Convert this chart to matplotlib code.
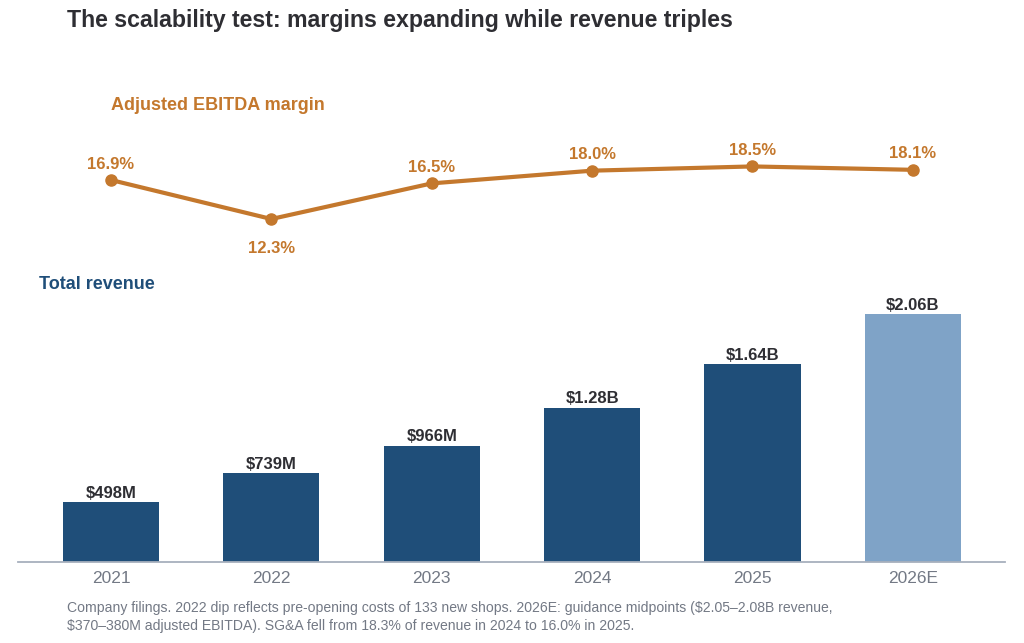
import matplotlib
matplotlib.use('Agg')
from matplotlib import pyplot as plt

# --- DATA ---
years = ['2021', '2022', '2023', '2024', '2025', '2026E']
revenue_b = [0.498, 0.739, 0.966, 1.28, 1.64, 2.06]
revenue_labels = ['$498M', '$739M', '$966M', '$1.28B', '$1.64B', '$2.06B']
margin_pct = [16.9, 12.3, 16.5, 18.0, 18.5, 18.1]
margin_labels = ['16.9%', '12.3%', '16.5%', '18.0%', '18.5%', '18.1%']

# --- STYLE ---
BAR_COLOR = '#1f4e79'
EST_COLOR = '#7fa3c7'
LINE_COLOR = '#c4782d'
TEXT_DARK = '#2e2e33'
TEXT_GRAY = '#737985'
AXIS_COLOR = '#a7b0bd'

plt.rcParams['font.family'] = ['Liberation Sans', 'DejaVu Sans']

W, H = 1024, 643
fig = plt.figure(figsize=(W / 100, H / 100), dpi=100)

x = list(range(len(years)))
xlim = (-0.58, 5.575)
ax_left = 18 / W
ax_width = 987 / W

# Bars (revenue)
bar_top_px, bar_base_px = 285, 562
ax_bar = fig.add_axes([ax_left, (H - bar_base_px) / H, ax_width, (bar_base_px - bar_top_px) / H])
colors = [BAR_COLOR] * (len(years) - 1) + [EST_COLOR]
bars = ax_bar.bar(x, revenue_b, width=0.6, color=colors, zorder=2)
ax_bar.set_xlim(*xlim)
ax_bar.set_ylim(0, 2.3)
for rect, lbl in zip(bars, revenue_labels):
    ax_bar.annotate(lbl, (rect.get_x() + rect.get_width() / 2, rect.get_height()),
                    xytext=(0, 1), textcoords='offset points', ha='center', va='bottom',
                    fontsize=12, fontweight='bold', color=TEXT_DARK)
for s in ['top', 'right', 'left']:
    ax_bar.spines[s].set_visible(False)
ax_bar.spines['bottom'].set_color(AXIS_COLOR)
ax_bar.spines['bottom'].set_linewidth(1.3)
ax_bar.set_yticks([])
ax_bar.set_xticks(x)
ax_bar.set_xticklabels(years, fontsize=12.5, color=TEXT_GRAY)
ax_bar.tick_params(axis='x', length=0, pad=6.5)
ax_bar.patch.set_alpha(0)

# Line (margin)
m_lo, m_hi = 10, 20
px_per_pct = 8.48
y_lo_px = 180 + (16.9 - m_lo) * px_per_pct
y_hi_px = y_lo_px - (m_hi - m_lo) * px_per_pct
ax_line = fig.add_axes([ax_left, (H - y_lo_px) / H, ax_width, (y_lo_px - y_hi_px) / H])
ax_line.plot(x, margin_pct, color=LINE_COLOR, linewidth=3, marker='o', markersize=8, zorder=3)
ax_line.set_xlim(*xlim)
ax_line.set_ylim(m_lo, m_hi)
ax_line.axis('off')
for i, (v, lbl) in enumerate(zip(margin_pct, margin_labels)):
    prev_v = margin_pct[i - 1] if i > 0 else v
    next_v = margin_pct[i + 1] if i < len(margin_pct) - 1 else v
    below = v < prev_v and v < next_v
    ax_line.annotate(lbl, (i, v), xytext=(0, -21 if below else 11.5), textcoords='offset points',
                     ha='center', va='center',
                     fontsize=12, fontweight='bold', color=LINE_COLOR)

# Text
fig.text(67 / W, 1 - 20 / H, 'The scalability test: margins expanding while revenue triples',
         fontsize=16.7, fontweight='bold', color=TEXT_DARK, ha='left', va='center')
fig.text(111 / W, 1 - 105 / H, 'Adjusted EBITDA margin', fontsize=13, fontweight='bold',
         color=LINE_COLOR, ha='left', va='center')
fig.text(39 / W, 1 - 284 / H, 'Total revenue', fontsize=13, fontweight='bold',
         color=BAR_COLOR, ha='left', va='center')
fig.text(67 / W, 1 - 617 / H,
         'Company filings. 2022 dip reflects pre-opening costs of 133 new shops. 2026E: guidance midpoints ($2.05\u20132.08B revenue,\n'
         '$370\u2013380M adjusted EBITDA). SG&A fell from 18.3% of revenue in 2024 to 16.0% in 2025.',
         fontsize=10.1, color=TEXT_GRAY, ha='left', va='center', linespacing=1.3)

fig.savefig('out.png', dpi=100)
